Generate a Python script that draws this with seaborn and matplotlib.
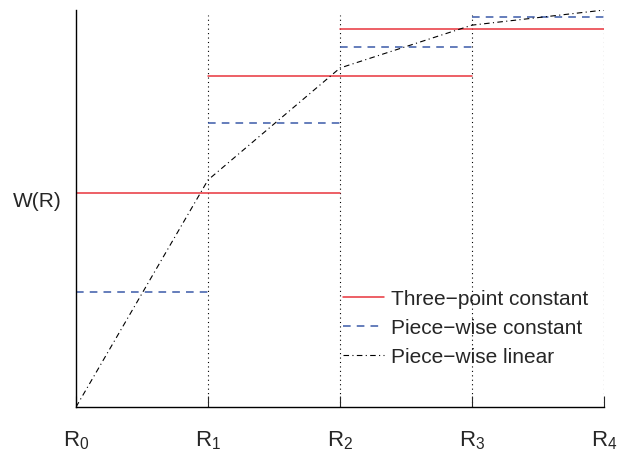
import matplotlib
matplotlib.use('Agg')
import matplotlib.pyplot as plt
import pandas as pd
import seaborn as sns
from matplotlib.lines import Line2D

# Knot positions R0..R4 and their tick labels
knots = [0, 1, 2, 3, 4]
knot_labels = [r'$\mathregular{R_0}$', r'$\mathregular{R_1}$', r'$\mathregular{R_2}$',
               r'$\mathregular{R_3}$', r'$\mathregular{R_4}$']

# Three-point constant: each level spans two intervals (start knot, end knot, value)
three_start = [0, 1, 2]
three_end = [2, 3, 4]
three_val = [0.539, 0.834, 0.952]

# Piece-wise constant: one level per interval
piece_start = [0, 1, 2, 3]
piece_end = [1, 2, 3, 4]
piece_val = [0.290, 0.715, 0.907, 0.982]

# Piece-wise linear: values at the knots
linear_val = [0.0, 0.572, 0.854, 0.962, 1.0]

series_names = ['Three\u2212point constant', 'Piece\u2212wise constant', 'Piece\u2212wise linear']


def segments(starts, ends, vals, name):
    rows = []
    for i, (a, b, v) in enumerate(zip(starts, ends, vals)):
        rows.append({'x': a, 'y': v, 'seg': i, 'series': name})
        rows.append({'x': b, 'y': v, 'seg': i, 'series': name})
    return pd.DataFrame(rows)


df_three = segments(three_start, three_end, three_val, series_names[0])
df_piece = segments(piece_start, piece_end, piece_val, series_names[1])
df_lin = pd.DataFrame({'x': knots, 'y': linear_val, 'seg': 0, 'series': series_names[2]})

sns.set_style('white')
plt.rcParams['font.family'] = ['Liberation Sans', 'DejaVu Sans']

fig, ax = plt.subplots(figsize=(6.21, 4.57), dpi=100)
fig.subplots_adjust(left=0.1224, right=0.9726, bottom=0.1094, top=0.978)

red = '#e8343c'
blue = '#3a5aa8'
styles = [
    dict(color=red, linestyle='-', linewidth=1.1),
    dict(color=blue, linestyle=(0, (5, 4)), linewidth=1.1),
    dict(color='black', linestyle=(0, (5, 3, 1, 3)), linewidth=0.8),
]

for d, st in zip([df_three, df_piece, df_lin], styles):
    sns.lineplot(data=d, x='x', y='y', units='seg', estimator=None,
                 legend=False, ax=ax, **st)

# dotted guide lines at the knots
for k in knots[1:]:
    ax.axvline(k, ymax=0.988, color='black', linestyle=(0, (1, 3)), linewidth=0.8, zorder=0)

ax.set_xlim(knots[0], knots[-1])
ax.set_ylim(0, 1.0)
ax.set_xlabel('')
ax.set_ylabel('')

ax.set_xticks(knots)
ax.set_xticklabels(knot_labels, fontsize=16)
ax.tick_params(axis='x', direction='in', length=8, width=0.8, pad=16, bottom=True)
ax.set_yticks([0.522])
ax.set_yticklabels(['W(R)'], fontsize=15)
ax.tick_params(axis='y', length=0, pad=10)

for s in ['top', 'right']:
    ax.spines[s].set_visible(False)
for s in ['left', 'bottom']:
    ax.spines[s].set_color('black')
    ax.spines[s].set_linewidth(1.0)

handles = [Line2D([], [], **st) for st in styles]
ax.legend(handles, series_names, loc='center left', bbox_to_anchor=(0.506, 0.199),
          frameon=False, fontsize=15, handlelength=1.95, handletextpad=0.33,
          labelspacing=0.48, borderpad=0, borderaxespad=0)

fig.savefig('out.png', dpi=100)
